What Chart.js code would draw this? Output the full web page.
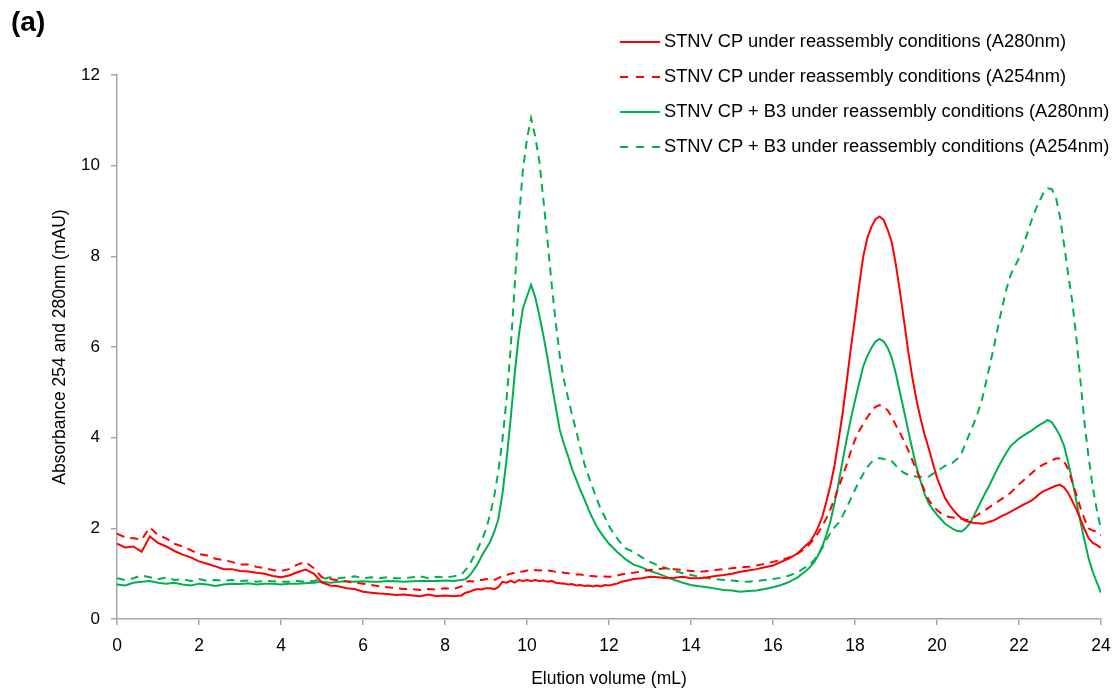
<!DOCTYPE html>
<html>
<head>
<meta charset="utf-8">
<script src="https://cdn.jsdelivr.net/npm/chart.js@4.4.0/dist/chart.umd.min.js"></script>
<style>
html,body{margin:0;padding:0;background:#fff;}
#wrap{position:relative;width:1119px;height:693px;font-family:"Liberation Sans",Arial,sans-serif;color:#000;}
#c{position:absolute;left:0;top:0;}
#panel{position:absolute;left:11px;top:7px;font-weight:bold;font-size:28px;line-height:30px;}
#legend{position:absolute;left:620px;top:30px;width:499px;height:140px;}
.row{position:absolute;left:0;height:22px;white-space:nowrap;font-size:18.3px;line-height:22px;}
.row svg{position:absolute;left:0;top:10px;}
.row span{position:absolute;left:44px;top:0;}
</style>
</head>
<body>
<div id="wrap">
<canvas id="c" width="1119" height="693"></canvas>
<div id="panel">(a)</div>
<div id="legend"></div>
</div>
<script>
// Elution volume (mL)
const volume = [
0,0.2,0.4,0.6,0.8,1,1.2,1.4,1.6,1.8,
2,2.2,2.4,2.6,2.8,3,3.2,3.4,3.6,3.8,
4,4.2,4.4,4.6,4.8,5,5.2,5.4,5.6,5.8,
6,6.2,6.4,6.6,6.8,7,7.2,7.4,7.6,7.8,
8,8.2,8.4,
8.5,8.6,8.7,8.8,8.9,9,9.1,9.2,9.3,9.4,
9.5,9.6,9.7,9.8,9.9,10,10.1,10.2,10.3,10.4,
10.5,10.6,10.7,10.8,10.9,11,11.1,11.2,11.3,11.4,
11.5,11.6,11.7,11.8,11.9,12,12.1,12.2,12.3,12.4,
12.6,12.8,13,13.2,13.4,13.6,13.8,14,14.2,14.4,
14.6,14.8,15,15.2,15.4,15.6,15.8,16,16.2,16.4,
16.6,16.8,
16.9,17,17.1,17.2,17.3,17.4,17.5,17.6,17.7,17.8,
17.9,18,18.1,18.2,18.3,18.4,18.5,18.6,18.7,18.8,
18.9,19,19.1,19.2,19.3,19.4,19.5,19.6,19.7,19.8,
19.9,20,20.1,20.2,20.3,20.4,20.5,20.6,20.7,20.8,
20.9,21,21.1,21.2,21.3,21.4,21.5,21.6,21.7,21.8,
21.9,22,22.1,22.2,22.3,22.4,22.5,22.6,22.7,22.8,
22.9,23,23.1,23.2,23.3,23.4,23.5,23.6,23.7,23.8,
23.9,24
];

// STNV CP under reassembly conditions (A280nm)
const cpA280 = [
1.66,1.58,1.6,1.48,1.82,1.68,1.6,1.5,1.42,1.36,
1.27,1.22,1.16,1.1,1.1,1.06,1.05,1.02,1.0,0.95,
0.92,0.96,1.03,1.09,1.0,0.8,0.74,0.72,0.68,0.66,
0.6,0.58,0.56,0.55,0.53,0.54,0.52,0.5,0.54,0.5,
0.52,0.5,0.52,
0.58,0.6,0.64,0.66,0.65,0.68,0.68,0.66,0.7,0.82,
0.8,0.84,0.8,0.86,0.84,0.86,0.84,0.86,0.84,0.85,
0.82,0.84,0.8,0.79,0.78,0.76,0.77,0.74,0.75,0.73,
0.74,0.72,0.74,0.72,0.75,0.74,0.76,0.78,0.82,0.84,
0.88,0.9,0.93,0.92,0.9,0.91,0.93,0.9,0.9,0.92,
0.95,0.97,1.0,1.04,1.07,1.1,1.14,1.18,1.26,1.34,
1.45,1.62,
1.7,1.84,2.02,2.25,2.58,2.95,3.38,3.95,4.55,5.25,
5.98,6.65,7.35,7.99,8.4,8.65,8.82,8.88,8.8,8.58,
8.3,7.8,7.2,6.55,5.9,5.32,4.83,4.42,4.06,3.76,
3.43,3.12,2.88,2.66,2.52,2.4,2.3,2.22,2.16,2.14,
2.12,2.11,2.1,2.12,2.15,2.18,2.23,2.28,2.32,2.37,
2.42,2.47,2.52,2.56,2.61,2.68,2.76,2.82,2.86,2.9,
2.94,2.96,2.9,2.78,2.6,2.42,2.2,1.98,1.78,1.68,
1.63,1.57
];

// STNV CP under reassembly conditions (A254nm)
const cpA254 = [
1.88,1.8,1.78,1.75,2.02,1.85,1.78,1.66,1.6,1.52,
1.43,1.4,1.33,1.3,1.26,1.2,1.2,1.15,1.12,1.08,
1.06,1.1,1.2,1.26,1.12,0.92,0.88,0.85,0.83,0.8,
0.78,0.75,0.72,0.7,0.68,0.66,0.66,0.64,0.66,0.65,
0.68,0.66,0.72,
0.82,0.84,0.83,0.86,0.86,0.88,0.87,0.86,0.9,0.95,
0.97,1.0,1.02,1.04,1.05,1.07,1.06,1.08,1.07,1.08,
1.07,1.06,1.04,1.04,1.02,1.01,1.0,0.98,0.98,0.97,
0.95,0.95,0.94,0.93,0.94,0.93,0.94,0.96,0.98,1.0,
1.02,1.05,1.08,1.1,1.12,1.1,1.08,1.06,1.04,1.06,
1.08,1.1,1.12,1.14,1.15,1.18,1.22,1.26,1.3,1.36,
1.44,1.56,
1.66,1.76,1.9,2.05,2.22,2.42,2.65,2.9,3.15,3.42,
3.7,3.95,4.15,4.3,4.45,4.58,4.68,4.72,4.68,4.6,
4.45,4.27,4.1,3.92,3.72,3.5,3.29,3.05,2.82,2.62,
2.5,2.4,2.33,2.28,2.25,2.24,2.22,2.21,2.19,2.18,
2.24,2.3,2.36,2.42,2.48,2.54,2.6,2.66,2.72,2.79,
2.88,2.97,3.05,3.13,3.21,3.29,3.36,3.41,3.45,3.5,
3.54,3.54,3.48,3.3,3.02,2.74,2.45,2.2,2.0,1.95,
1.93,1.85
];

// STNV CP + B3 under reassembly conditions (A280nm)
const b3A280 = [
0.76,0.74,0.8,0.82,0.84,0.8,0.78,0.8,0.76,0.74,
0.78,0.76,0.73,0.76,0.78,0.77,0.79,0.76,0.78,0.78,
0.76,0.78,0.78,0.79,0.8,0.82,0.8,0.82,0.83,0.82,
0.83,0.82,0.82,0.84,0.83,0.82,0.83,0.84,0.84,0.84,
0.85,0.84,0.86,
0.88,0.96,1.08,1.22,1.4,1.55,1.7,1.92,2.2,2.75,
3.51,4.4,5.4,6.25,6.85,7.12,7.37,7.1,6.7,6.25,
5.76,5.2,4.68,4.17,3.86,3.6,3.3,3.08,2.85,2.64,
2.42,2.22,2.04,1.9,1.78,1.66,1.57,1.48,1.4,1.32,
1.2,1.14,1.06,1.0,0.93,0.86,0.8,0.75,0.72,0.7,
0.67,0.64,0.63,0.6,0.62,0.63,0.66,0.7,0.75,0.82,
0.92,1.06,
1.14,1.25,1.4,1.6,1.85,2.15,2.55,3.0,3.5,3.98,
4.42,4.82,5.2,5.57,5.8,5.98,6.12,6.18,6.12,5.98,
5.75,5.4,4.98,4.57,4.15,3.74,3.35,3.04,2.75,2.55,
2.41,2.3,2.2,2.1,2.04,1.98,1.94,1.93,2.0,2.11,
2.28,2.46,2.64,2.82,2.99,3.18,3.36,3.53,3.68,3.82,
3.9,3.98,4.04,4.1,4.15,4.22,4.28,4.33,4.39,4.34,
4.2,4.04,3.82,3.45,3.05,2.6,2.14,1.72,1.33,1.04,
0.8,0.58
];

// STNV CP + B3 under reassembly conditions (A254nm)
const b3A254 = [
0.9,0.86,0.9,0.96,0.92,0.88,0.92,0.86,0.88,0.84,
0.88,0.84,0.86,0.84,0.86,0.84,0.85,0.82,0.84,0.83,
0.82,0.82,0.84,0.82,0.84,0.88,0.92,0.9,0.92,0.94,
0.9,0.92,0.9,0.92,0.9,0.9,0.92,0.94,0.9,0.93,
0.92,0.94,0.98,
1.08,1.2,1.38,1.55,1.75,1.98,2.3,2.7,3.25,3.95,
4.83,5.95,7.35,8.8,9.9,10.6,11.05,10.64,10.1,9.25,
8.35,7.4,6.55,5.8,5.28,4.88,4.5,4.15,3.78,3.42,
3.15,2.9,2.65,2.42,2.25,2.05,1.9,1.78,1.66,1.56,
1.48,1.36,1.26,1.18,1.12,1.06,1.01,0.97,0.93,0.9,
0.88,0.86,0.85,0.83,0.82,0.84,0.86,0.88,0.91,0.96,
1.03,1.15,
1.2,1.3,1.42,1.56,1.74,1.9,2.02,2.12,2.28,2.46,
2.66,2.85,3.04,3.2,3.35,3.46,3.52,3.55,3.53,3.52,
3.48,3.38,3.29,3.22,3.18,3.16,3.14,3.14,3.13,3.14,
3.2,3.26,3.32,3.38,3.4,3.46,3.54,3.66,3.88,4.1,
4.32,4.56,4.85,5.24,5.64,6.06,6.5,6.92,7.3,7.6,
7.78,7.96,8.22,8.5,8.78,9.02,9.22,9.4,9.5,9.48,
9.3,8.87,8.25,7.6,7.0,6.2,5.25,4.3,3.55,2.9,
2.4,1.98
];

const seriesLabels = [
  'STNV CP under reassembly conditions (A280nm)',
  'STNV CP under reassembly conditions (A254nm)',
  'STNV CP + B3 under reassembly conditions (A280nm)',
  'STNV CP + B3 under reassembly conditions (A254nm)'
];
const seriesValues = [cpA280, cpA254, b3A280, b3A254];
const xTicks = [0,2,4,6,8,10,12,14,16,18,20,22,24];
const yTicks = [0,2,4,6,8,10,12];

const RED = '#ff0000', GREEN = '#00b050';
const seriesColors = [RED, RED, GREEN, GREEN];
const seriesDash = [[], [8,6], [], [8,6]];
const FONT = '"Liberation Sans", Arial, sans-serif';
const AXIS = '#a6a6a6';

const datasets = seriesValues.map((vals, k) => ({
  label: seriesLabels[k],
  data: volume.map((v, i) => ({x: v, y: vals[i]})),
  borderColor: seriesColors[k],
  backgroundColor: seriesColors[k],
  borderWidth: 2,
  borderDash: seriesDash[k],
  pointRadius: 0,
  tension: 0,
  fill: false
}));

new Chart(document.getElementById('c'), {
  type: 'line',
  data: {datasets},
  options: {
    responsive: false,
    animation: false,
    layout: {padding: {left: 0, right: 18, top: 75, bottom: 0}},
    plugins: {legend: {display: false}, tooltip: {enabled: false}},
    scales: {
      x: {
        type: 'linear', min: 0, max: 24,
        afterBuildTicks: s => { s.ticks = xTicks.map(v => ({value: v})); },
        ticks: {color: '#000', font: {family: FONT, size: 17.5}, padding: 11, maxRotation: 0, autoSkip: false},
        grid: {display: true, drawOnChartArea: false, drawTicks: true, tickLength: 6, color: AXIS, lineWidth: 1.5},
        border: {display: true, color: AXIS, width: 1.5},
        title: {display: true, text: 'Elution volume (mL)', color: '#000', font: {family: FONT, size: 17.5}, padding: {top: 0, bottom: 3.5}},
        afterFit: s => { s.height = 74; s.paddingRight = 0; s.paddingLeft = 0; }
      },
      y: {
        min: 0, max: 12,
        afterBuildTicks: s => { s.ticks = yTicks.map(v => ({value: v})); },
        ticks: {color: '#000', font: {family: FONT, size: 17}, padding: 11},
        grid: {display: true, drawOnChartArea: false, drawTicks: true, tickLength: 6, color: AXIS, lineWidth: 1.5},
        border: {display: true, color: AXIS, width: 1.5},
        title: {display: true, text: 'Absorbance 254 and 280nm (mAU)', color: '#000', font: {family: FONT, size: 17.5}, padding: {top: 49.5, bottom: 0}},
        afterFit: s => { s.width = 117; }
      }
    }
  }
});

// Legend (HTML text)
const legend = document.getElementById('legend');
const rowTops = [0, 35, 70, 105];
seriesLabels.forEach((lab, k) => {
  const row = document.createElement('div');
  row.className = 'row';
  row.style.top = rowTops[k] + 'px';
  const dash = seriesDash[k].length ? 'stroke-dasharray="8 8"' : '';
  row.innerHTML = '<svg width="40" height="4"><line x1="0" y1="2" x2="40" y2="2" stroke="' + seriesColors[k] + '" stroke-width="2" ' + dash + '/></svg><span></span>';
  row.querySelector('span').textContent = lab;
  legend.appendChild(row);
});
</script>
</body>
</html>
